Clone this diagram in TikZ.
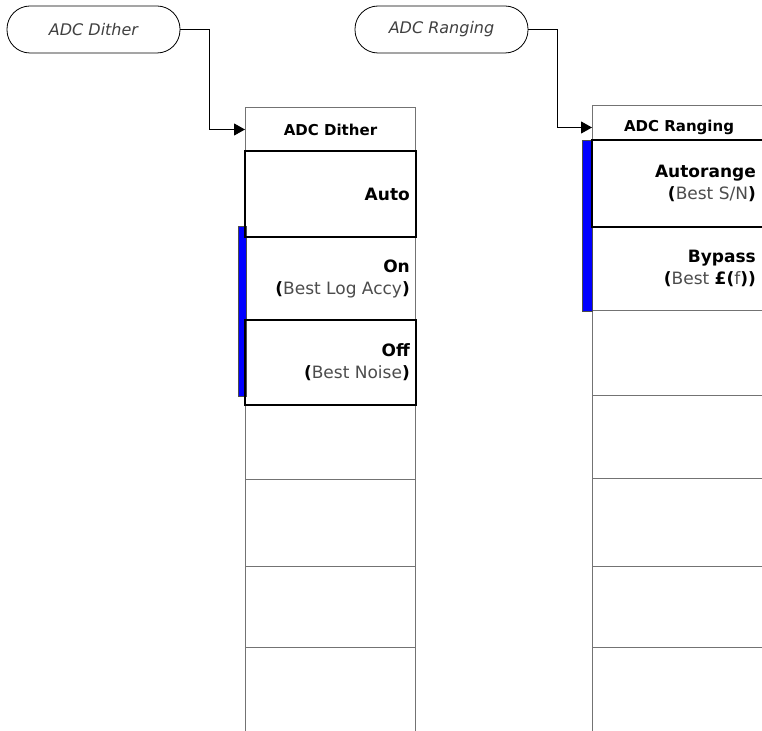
\documentclass[tikz,border=0pt]{standalone}
\usepackage{fontspec}
\setmainfont{DejaVu Sans}
\usetikzlibrary{arrows.meta, positioning}

\newcommand{\lite}[1]{{\mdseries\color{black!70}#1}}

\begin{document}
\begin{tikzpicture}[
  x=1pt, y=-1pt,
  oval/.style={draw, line width=0.8pt, rounded corners=23pt,
               minimum width=173pt, minimum height=47pt, inner sep=0pt,
               font=\fontsize{16}{19}\selectfont\itshape, text=black!75},
  softkey/.style={draw=black!55, line width=1pt, fill=white,
                  anchor=north west, minimum width=#1, inner sep=0pt},
  hdr/.style={font=\fontsize{15}{18}\selectfont\bfseries},
  keytxt/.style={anchor=east, align=right, inner sep=0pt,
                 font=\fontsize{17}{22}\selectfont\bfseries},
  selkey/.style={draw=black, line width=2.2pt},
  activebar/.style={fill=blue, draw=black!70, line width=0.6pt},
  link/.style={draw, line width=0.9pt,
               -{Triangle[length=11pt, width=12pt]}}
]
  \useasboundingbox (0,0) rectangle (762,730);

  % Menu key ovals
  \node[oval] (odith) at (93.5,29.5) {ADC Dither};
  \node[oval] (orang) at (441.5,29.5) {ADC Ranging};

  % ADC Dither menu
  \node[softkey=170pt, minimum height=44pt, hdr] (hdith) at (245,107) {ADC Dither};
  \foreach \name/\top/\h in {d1/151/85, d2/236/84, d3/320/84, d4/404/75,
                             d5/479/87, d6/566/81, d7/647/95}{
    \node[softkey=170pt, minimum height=\h pt] (\name) at (245,\top) {};
  }
  \draw[activebar] (238,226) rectangle (246,396);
  \foreach \k in {d1, d3}{
    \draw[selkey] (\k.north west) rectangle (\k.south east);
  }
  \node[keytxt] (tauto) at ([xshift=-6pt]d1.east) {Auto};
  \node[keytxt] (ton) at ([xshift=-6pt]d2.east)
    {On\\(\lite{Best Log Accy})};
  \node[keytxt] (toff) at ([xshift=-6pt]d3.east)
    {Off\\(\lite{Best Noise})};

  % ADC Ranging menu
  \node[softkey=173pt, minimum height=44pt, hdr] (hrang) at (592,105) {ADC Ranging};
  \foreach \name/\top/\h in {r1/140/86, r2/226/84, r3/310/85, r4/395/83,
                             r5/478/88, r6/566/81, r7/647/95}{
    \node[softkey=173pt, minimum height=\h pt] (\name) at (592,\top) {};
  }
  \draw[activebar] (582,140) rectangle (592,311);
  \draw[selkey] (r1.north west) rectangle (r1.south east);
  \node[keytxt] (tauto) at (756,183) {Autorange\\(\lite{Best S/N})};
  \node[keytxt] (tbyp) at (756,268) {Bypass\\(\lite{Best }£(\lite{f}))};

  % Connectors
  \draw[link] (odith.east) -- ++(29,0) |- (hdith.west);
  \draw[link] (orang.east) -- ++(29,0) |- (hrang.west);
\end{tikzpicture}
\end{document}
